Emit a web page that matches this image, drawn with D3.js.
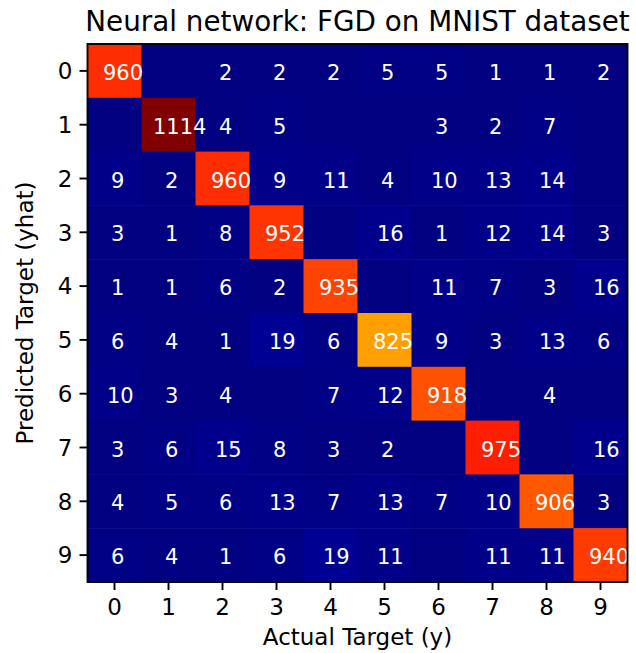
<!DOCTYPE html>
<html>
<head>
<meta charset="utf-8">
<script src="https://cdn.jsdelivr.net/npm/d3@7"></script>
<style>
  html, body { margin: 0; padding: 0; background: #fff; }
  svg { display: block; font-family: "DejaVu Sans", sans-serif; }
</style>
</head>
<body>
<svg id="chart" width="636" height="653"></svg>
<script>
// ---- data ----
const title = "Neural network: FGD on MNIST dataset";
const xLabel = "Actual Target (y)";
const yLabel = "Predicted Target (yhat)";
const classes = ["0","1","2","3","4","5","6","7","8","9"];
const row0 = [960, 0, 2, 2, 2, 5, 5, 1, 1, 2];
const row1 = [0, 1114, 4, 5, 0, 0, 3, 2, 7, 0];
const row2 = [9, 2, 960, 9, 11, 4, 10, 13, 14, 0];
const row3 = [3, 1, 8, 952, 0, 16, 1, 12, 14, 3];
const row4 = [1, 1, 6, 2, 935, 0, 11, 7, 3, 16];
const row5 = [6, 4, 1, 19, 6, 825, 9, 3, 13, 6];
const row6 = [10, 3, 4, 0, 7, 12, 918, 0, 4, 0];
const row7 = [3, 6, 15, 8, 3, 2, 0, 975, 0, 16];
const row8 = [4, 5, 6, 13, 7, 13, 7, 10, 906, 3];
const row9 = [6, 4, 1, 6, 19, 11, 0, 11, 11, 940];
const matrix = [row0,row1,row2,row3,row4,row5,row6,row7,row8,row9];

// ---- jet colormap (matplotlib segment data) ----
function seg(points, t) {
  for (let i = 1; i < points.length; i++) {
    if (t <= points[i][0]) {
      const [x0, y0] = points[i-1], [x1, y1] = points[i];
      return y0 + (y1 - y0) * (t - x0) / (x1 - x0);
    }
  }
  return points[points.length-1][1];
}
const jetR = [[0,0],[0.35,0],[0.66,1],[0.89,1],[1,0.5]];
const jetG = [[0,0],[0.125,0],[0.375,1],[0.64,1],[0.91,0],[1,0]];
const jetB = [[0,0.5],[0.11,1],[0.34,1],[0.65,0],[1,0]];
function jet(t) {
  t = Math.max(0, Math.min(1, t));
  t = Math.floor(t * 255.999) / 255; // 256-level lut
  const c = v => Math.round(v * 255);
  return `rgb(${c(seg(jetR,t))},${c(seg(jetG,t))},${c(seg(jetB,t))})`;
}

// ---- layout ----
const L = 87.5, R = 627.5, T = 44, B = 582;
const svg = d3.select("#chart");
const x = d3.scaleBand().domain(classes).range([L, R]);
const y = d3.scaleBand().domain(classes).range([T, B]);
const vmax = d3.max(matrix.flat());
const color = d3.scaleLinear().domain([0, vmax]).range([0, 1]).clamp(true);

const cells = [];
matrix.forEach((row, i) => row.forEach((v, j) => cells.push({r: classes[i], c: classes[j], v})));

svg.append("g").selectAll("rect").data(cells).join("rect")
  .attr("x", d => x(d.c)).attr("y", d => y(d.r))
  .attr("width", x.bandwidth() + 0.5).attr("height", y.bandwidth() + 0.5)
  .attr("fill", d => jet(color(d.v)));

// cell texts
const fsCell = 21;
const txt = svg.append("g").selectAll("text").data(cells.filter(d => d.v > 0)).join("text")
  .attr("font-size", fsCell).attr("fill", "#fff")
  .attr("text-anchor", "middle")
  .attr("x", d => x(d.c) + x.bandwidth()/2)
  .attr("y", d => y(d.r) + y.bandwidth()/2 + 0.36*fsCell + 1.5)
  .text(d => d.v);
txt.each(function() {
  const w = this.getComputedTextLength();
  d3.select(this).attr("dx", 0.2*w + 0.5);
});

// frame
svg.append("rect").attr("x", L).attr("y", T).attr("width", R-L).attr("height", B-T)
  .attr("fill", "none").attr("stroke", "#000").attr("stroke-width", 1.9);

// axes
const fsTick = 23;
const xAxis = d3.axisBottom(x).tickSize(8).tickPadding(7);
const gx = svg.append("g").attr("transform", `translate(0,${B})`).call(xAxis);
const yAxis = d3.axisLeft(y).tickSize(8).tickPadding(7);
const gy = svg.append("g").attr("transform", `translate(${L},0)`).call(yAxis);
[gx, gy].forEach(g => {
  g.select(".domain").remove();
  g.selectAll(".tick line").attr("stroke", "#000").attr("stroke-width", 1.9);
  g.selectAll(".tick text").attr("font-size", fsTick).attr("fill", "#000")
    .attr("font-family", "DejaVu Sans");
});
gx.selectAll(".tick text").attr("dy", "0.78em");
gy.selectAll(".tick text").attr("dy", "0.36em");

// labels
svg.append("text").attr("x", (L+R)/2).attr("y", 645).attr("text-anchor", "middle")
  .attr("font-size", 23).attr("fill", "#000").text(xLabel);
svg.append("text").attr("transform", `translate(33,${(T+B)/2}) rotate(-90)`)
  .attr("text-anchor", "middle").attr("font-size", 23).attr("fill", "#000").text(yLabel);
svg.append("text").attr("x", (L+R)/2).attr("y", 31).attr("text-anchor", "middle")
  .attr("font-size", 27.8).attr("fill", "#000").text(title);
</script>
</body>
</html>
